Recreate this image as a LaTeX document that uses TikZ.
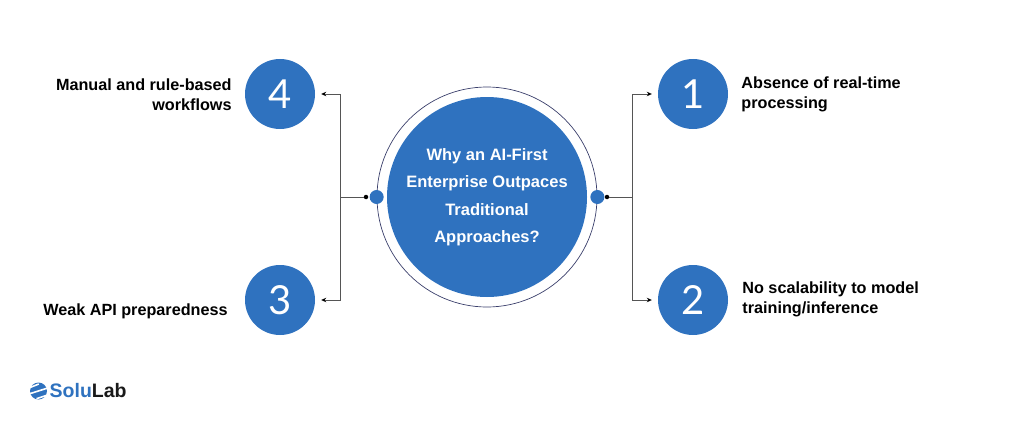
\documentclass[tikz,border=0pt]{standalone}
\usepackage{fontspec}
\setmainfont{Liberation Sans}
\newfontfamily\digitfont{Lato}
\usetikzlibrary{arrows.meta, positioning}
\definecolor{soluBlue}{HTML}{2F72BF}
\definecolor{ringInk}{HTML}{3A3F6B}
\definecolor{linkInk}{HTML}{555555}
\tikzset{%
	number disc/.style={
		circle,
		fill=soluBlue,
		text=white,
		inner sep=0pt,
		minimum size=70pt,
		font=\fontsize{40}{40}\selectfont\digitfont
	},
	port dot/.style={
		circle,
		fill=soluBlue,
		inner sep=0pt,
		minimum size=14pt
	},
	tip dot/.style={
		circle,
		fill=black,
		inner sep=0pt,
		minimum size=4.5pt
	},
	item label/.style={
		inner sep=0pt,
		font=\fontsize{16.2}{20.5}\selectfont\bfseries
	},
	trunk/.style={
		draw=linkInk,
		line width=0.9pt
	},
	branch/.style={
		trunk,
		-{Stealth[length=5pt,width=4.5pt,color=black]},
		shorten >=6pt
	},
}
\begin{document}
\begin{tikzpicture}[x=1pt,y=1pt]
	\useasboundingbox (0,0) rectangle (1024,432);
	
	% Draw the centre circle and its ring
	\node[circle, draw=ringInk, line width=0.7pt, minimum size=220pt, inner sep=0pt] (ring) at (487,235) {};
	\node[circle, fill=soluBlue, minimum size=200pt, inner sep=0pt, text=white, align=center,
		font=\fontsize{16.5}{27.5}\selectfont\bfseries] (hub) at (487,235)
		{Why an AI-First\\Enterprise Outpaces\\Traditional\\Approaches?};
	
	% Draw the ports on the ring
	\node[port dot] (portl) at (ring.west) {};
	\node[port dot] (portr) at (ring.east) {};
	\node[tip dot] (tipl) at (366,235) {};
	\node[tip dot] (tipr) at (607,235) {};
	
	% Draw the numbered discs
	\node[number disc] (one) at (693,338) {1};
	\node[number disc] (two) at (693,132) {2};
	\node[number disc] (three) at (280,132) {3};
	\node[number disc] (four) at (280,338) {4};
	
	% Draw the labels
	\node[item label, align=left, right=13pt of one.east, yshift=-0.5pt] (absence) {Absence of real-time\\processing};
	\node[item label, align=left, right=14pt of two.east, yshift=0.5pt] (scaling) {No scalability to model\\training/inference};
	\node[item label, align=right, left=13pt of four.west, yshift=-0.5pt] (manual) {Manual and rule-based\\workflows};
	\node[item label, left=17pt of three.west, yshift=-11.5pt] (weak) {Weak API preparedness};
	
	% Draw arrows from the ports to the discs
	\coordinate (forkr) at (632,235);
	\coordinate (forkl) at (340.5,235);
	\draw[trunk] (tipr) -- (forkr);
	\draw[trunk] (tipl) -- (forkl);
	\draw[branch] (forkr) |- (one);
	\draw[branch] (forkr) |- (two);
	\draw[branch] (forkl) |- (four);
	\draw[branch] (forkl) |- (three);
	
	% Draw the logo
	\node[circle, fill=soluBlue, minimum size=17pt, inner sep=0pt] (logomark) at (38.5,41) {};
	\draw[white, line width=1.6pt] (logomark.west) ++(-1,-3) -- ++(19,6);
	\draw[white, line width=1.6pt] (logomark.west) ++(-1,3) -- ++(10,4);
	\draw[white, line width=1.6pt] (logomark.south) ++(-2,1) -- ++(12,4);
	\node[inner sep=0pt, anchor=west, font=\fontsize{19.5}{19.5}\selectfont\bfseries] (logotext) at (49.5,41)
		{\textcolor{soluBlue}{Solu}\textcolor{black!90}{Lab}};
\end{tikzpicture}
\end{document}
